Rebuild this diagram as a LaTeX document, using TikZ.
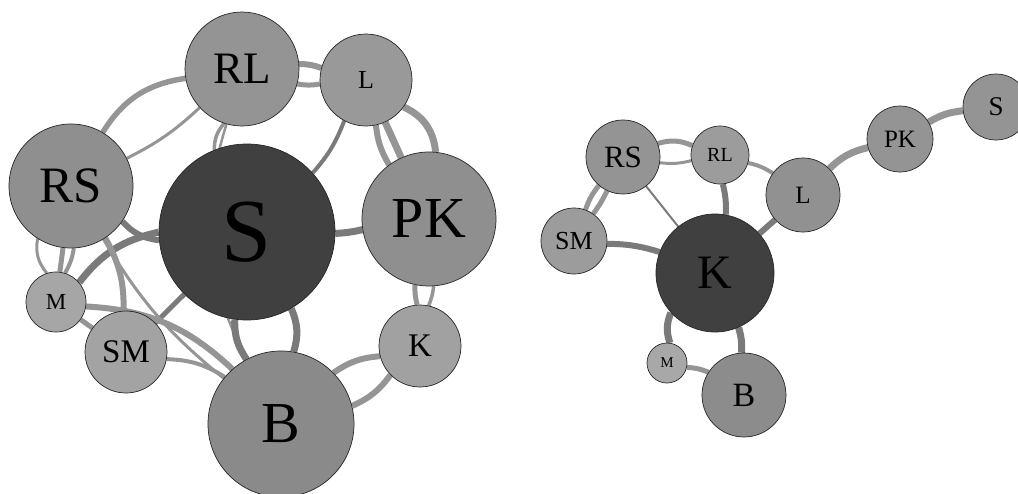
\documentclass[tikz,border=0pt]{standalone}
\usepackage{fontspec}
\setmainfont{Liberation Serif}
\pgfdeclarelayer{edges}
\pgfsetlayers{edges,main}
\newcommand\myfs[1]{\fontsize{#1}{#1}\selectfont}
\definecolor{elight}{HTML}{959595}
\definecolor{edark}{HTML}{7A7A7A}
\definecolor{cS}{HTML}{404040}
\tikzset{
  nd/.style={circle, draw=black!85, line width=0.7pt, inner sep=0pt, text=black},
  el/.style={draw=elight},
  ed/.style={draw=edark},
}
\begin{document}
\begin{tikzpicture}[x=1pt,y=-1pt]
\useasboundingbox (0,0) rectangle (1018,493);
% ---------- left graph ----------
\node[nd, minimum size=114pt, fill=black!42, font=\myfs{45}] (aRL) at (242,69) {RL};
\node[nd, minimum size=92pt, fill=black!40, font=\myfs{26}] (aL) at (366,80) {L};
\node[nd, minimum size=124pt, fill=black!44, font=\myfs{51}] (aRS) at (71,186) {RS};
\node[nd, minimum size=176pt, fill=cS, font=\myfs{90}] (aS) at (247,232) {S};
\node[nd, minimum size=134pt, fill=black!44, font=\myfs{58}] (aPK) at (429,219) {PK};
\node[nd, minimum size=82pt, fill=black!37, font=\myfs{33}] (aK) at (420,346) {K};
\node[nd, minimum size=146pt, fill=black!46, font=\myfs{58}] (aB) at (281,424) {B};
\node[nd, minimum size=60pt, fill=black!35, font=\myfs{23}] (aM) at (56,302) {M};
\node[nd, minimum size=82pt, fill=black!36, font=\myfs{33}] (aSM) at (126,352) {SM};
\begin{pgfonlayer}{edges}
\draw[el, line width=5.5pt] (aRS) to[bend left=25] (aRL);
\draw[el, line width=3pt] (aRS) to[bend right=8] (aRL);
\draw[el, line width=6pt] (aRL) to[bend left=10] (aL);
\draw[el, line width=5pt] (aRL) to[bend right=10] (aL);
\draw[el, line width=3.5pt] (aRL) to[bend right=20] (aS);
\draw[el, line width=2.5pt] (aRL) to[bend right=22] (aB);
\draw[ed, line width=6pt] (aRS) to[bend right=20] (aS);
\draw[ed, line width=7pt] (aM) to[bend left=20] (aS);
\draw[el, line width=3pt] (aM) to[bend left=25] (aRS);
\draw[el, line width=5pt] (aM) to (aRS);
\draw[el, line width=4pt] (aM) to[bend right=10] (aRS);
\draw[el, line width=6pt] (aSM) to[bend right=15] (aRS);
\draw[ed, line width=5pt] (aSM) to (aS);
\draw[el, line width=6pt] (aM) to[bend left=20] (aB);
\draw[el, line width=5pt] (aM) to (aSM);
\draw[el, line width=4pt] (aSM) to[bend left=15] (aB);
\draw[el, line width=3pt] (aRS) to[bend right=10] (aB);
\draw[ed, line width=7pt] (aS) to[bend right=18] (aB);
\draw[ed, line width=7pt] (aS) to[bend left=20] (aB);
\draw[el, line width=6pt] (aB) to[bend left=15] (aK);
\draw[el, line width=6pt] (aB) to[bend right=15] (aK);
\draw[el, line width=5pt] (aK) to[bend left=8] (aPK);
\draw[el, line width=3.5pt] (aK) to[bend right=8] (aPK);
\draw[ed, line width=7pt] (aS) to[bend right=5] (aPK);
\draw[ed, line width=4pt] (aL) to[bend left=10] (aS);
\draw[el, line width=7pt] (aL) to[bend left=30] (aPK);
\draw[el, line width=7pt] (aL) to (aPK);
\draw[el, line width=6pt] (aL) to[bend right=12] (aPK);
\end{pgfonlayer}
% ---------- right graph ----------
\node[nd, minimum size=74pt, fill=black!42, font=\myfs{31}] (bRS) at (623,157) {RS};
\node[nd, minimum size=58pt, fill=black!39, font=\myfs{20}] (bRL) at (720,155) {RL};
\node[nd, minimum size=66pt, fill=black!39, font=\myfs{26}] (bSM) at (574,241) {SM};
\node[nd, minimum size=118pt, fill=cS, font=\myfs{48}] (bK) at (715,273) {K};
\node[nd, minimum size=40pt, fill=black!34, font=\myfs{15}] (bM) at (667,363) {M};
\node[nd, minimum size=84pt, fill=black!45, font=\myfs{34}] (bB) at (744,395) {B};
\node[nd, minimum size=74pt, fill=black!43, font=\myfs{25}] (bL) at (803,195) {L};
\node[nd, minimum size=66pt, fill=black!42, font=\myfs{25}] (bPK) at (900,139) {PK};
\node[nd, minimum size=66pt, fill=black!42, font=\myfs{27}] (bS) at (996,107) {S};
\begin{pgfonlayer}{edges}
\draw[el, line width=5pt] (bRS) to[bend left=20] (bRL);
\draw[el, line width=3pt] (bRS) to[bend right=10] (bRL);
\draw[el, line width=5pt] (bRS) to[bend right=10] (bSM);
\draw[el, line width=5pt] (bRS) to[bend left=5] (bSM);
\draw[ed, line width=2pt] (bRS) to (bK);
\draw[ed, line width=6pt] (bSM) to[bend left=8] (bK);
\draw[ed, line width=6pt] (bRL) to[bend left=8] (bK);
\draw[el, line width=4pt] (bRL) to[bend left=10] (bL);
\draw[ed, line width=6pt] (bK) to (bL);
\draw[el, line width=7pt] (bL) to[bend left=15] (bPK);
\draw[el, line width=7pt] (bPK) to[bend left=12] (bS);
\draw[ed, line width=7pt] (bK) to[bend right=20] (bM);
\draw[ed, line width=7pt] (bK) to[bend left=10] (bB);
\draw[el, line width=5pt] (bM) to[bend left=10] (bB);
\end{pgfonlayer}
\end{tikzpicture}
\end{document}
